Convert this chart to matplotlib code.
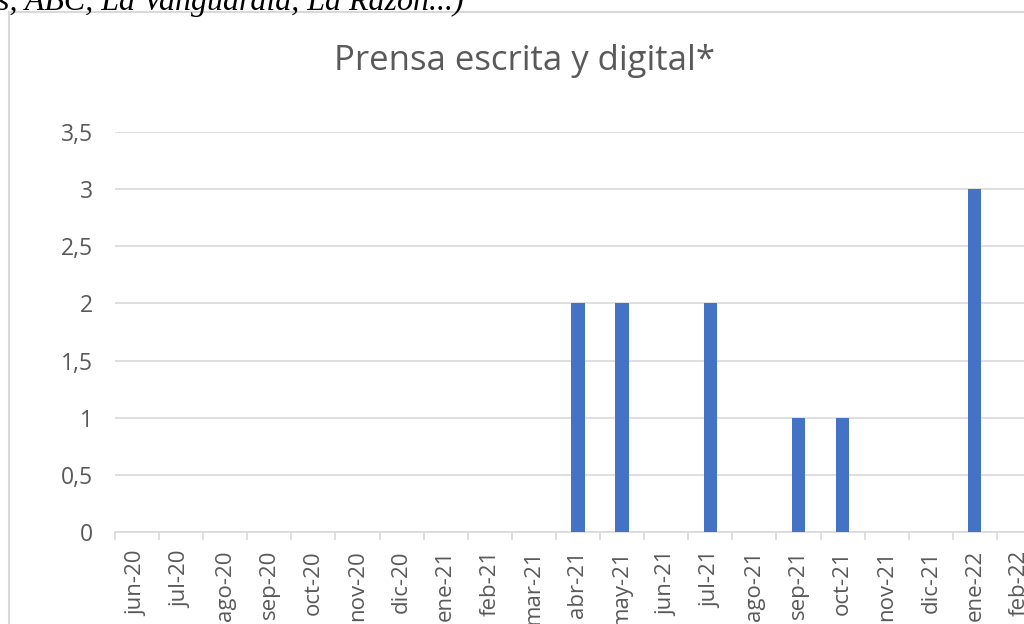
import matplotlib.pyplot as plt
from matplotlib.patches import Rectangle

months = ['jun-20', 'jul-20', 'ago-20', 'sep-20', 'oct-20', 'nov-20', 'dic-20',
          'ene-21', 'feb-21', 'mar-21', 'abr-21', 'may-21', 'jun-21', 'jul-21',
          'ago-21', 'sep-21', 'oct-21', 'nov-21', 'dic-21', 'ene-22', 'feb-22']
values = [0, 0, 0, 0, 0, 0, 0, 0, 0, 0, 2, 2, 0, 2, 0, 1, 1, 0, 0, 3, 0]
yticks = [0, 0.5, 1, 1.5, 2, 2.5, 3, 3.5]
ylabels = ['0', '0,5', '1', '1,5', '2', '2,5', '3', '3,5']

plt.rcParams['font.family'] = ['Open Sans', 'DejaVu Sans']
gray = '#595959'
light = '#d9d9d9'

W, H = 1024, 624
fig = plt.figure(figsize=(W / 100, H / 100), dpi=100)

# chart frame (cropped on the right and bottom)
fig.patches.append(Rectangle((9 / W, -0.1), 1.2, 1 - 12 / H + 0.1,
                             transform=fig.transFigure, fill=False,
                             edgecolor=light, linewidth=1.5))

# cut-off line of text above the chart
fig.text(-3 / W, 1 - 10 / H, 's, ABC, La Vanguardia, La Razón...)',
         family='Liberation Serif', style='italic', fontsize=23,
         color='black', ha='left', va='baseline')

left, right = 115, 1041
top, bottom = 132, 532
ax = fig.add_axes([left / W, 1 - bottom / H, (right - left) / W, (bottom - top) / H])

x = list(range(len(months)))
ax.bar(x, values, width=0.3, color='#4472C4', zorder=3)

ax.set_xlim(-0.5, len(months) - 0.5)
ax.set_ylim(0, 3.5)
ax.set_yticks(yticks)
ax.set_yticklabels(ylabels)
ax.set_xticks(x)
ax.set_xticklabels(months, rotation=90)
ax.set_xticks([i - 0.5 for i in range(len(months) + 1)], minor=True)

ax.tick_params(axis='y', length=0, pad=16, labelsize=16.5, labelcolor=gray)
ax.tick_params(axis='x', which='major', length=0, pad=13, labelsize=16, labelcolor=gray)
ax.tick_params(axis='x', which='minor', length=6, color=light, width=1.2)

ax.grid(axis='y', color=light, linewidth=1.2, zorder=0)
for s in ['top', 'right', 'left']:
    ax.spines[s].set_visible(False)
ax.spines['bottom'].set_color(light)
ax.spines['bottom'].set_linewidth(1.2)

fig.text(524 / W, 1 - 70 / H, 'Prensa escrita y digital*', fontsize=25,
         color=gray, ha='center', va='baseline')

fig.savefig('out.png', dpi=100)
